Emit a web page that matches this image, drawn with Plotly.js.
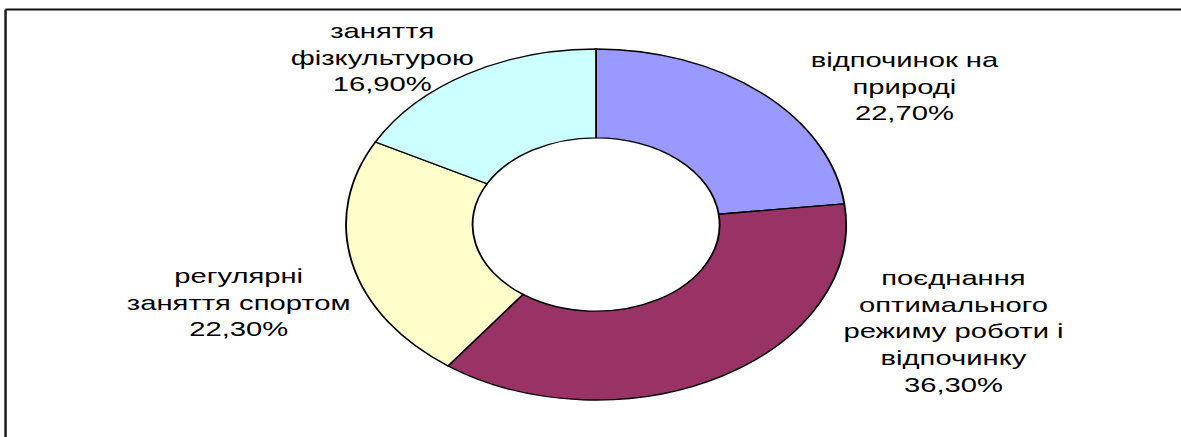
<!DOCTYPE html>
<html>
<head>
<meta charset="utf-8">
<script src="https://cdn.plot.ly/plotly-3.0.1.min.js"></script>
<style>
  html, body { margin: 0; padding: 0; background: #fff; overflow: hidden; }
  #chart { width: 829px; height: 437px; transform: scaleX(1.42461); transform-origin: 0 0; }
</style>
</head>
<body>
<div id="chart"></div>
<script>
// Data
const categories = [
  'відпочинок на<br>природі',
  'поєднання<br>оптимального<br>режиму роботи і<br>відпочинку',
  'регулярні<br>заняття спортом',
  'заняття<br>фізкультурою'
];
const values = [22.7, 36.3, 22.3, 16.9];
const colors = ['#9999FF', '#993366', '#FFFFCC', '#CCFFFF'];

const W = 829, H = 437;
function px(x) { return x / W; }
function py(y) { return 1 - y / H; }

// label anchor centres (unstretched pixel space)
const labelPos = [[634.6, 86], [669.0, 331], [167.1, 301.5], [268.1, 57.5]];

function pct(v) { return v.toFixed(2).replace('.', ',') + '%'; }

const annotations = categories.map((c, i) => ({
  text: c + '<br>' + pct(values[i]),
  xref: 'paper', yref: 'paper',
  x: px(labelPos[i][0]), y: py(labelPos[i][1]),
  xanchor: 'center', yanchor: 'middle',
  showarrow: false, align: 'center',
  font: { family: 'Liberation Sans, Arial, sans-serif', size: 20.5, color: '#000' }
}));

const cx = 418.4, cy = 224.5, R = 175.5;

const trace = {
  type: 'pie',
  values: values,
  labels: categories,
  marker: { colors: colors, line: { color: '#000', width: 1.3 } },
  hole: 0.494,
  sort: false,
  direction: 'clockwise',
  rotation: 0,
  textinfo: 'none',
  hoverinfo: 'none',
  showlegend: false,
  domain: { x: [px(cx - R), px(cx + R)], y: [py(cy + R), py(cy - R)] }
};

const layout = {
  width: W, height: H,
  margin: { l: 0, r: 0, t: 0, b: 0 },
  paper_bgcolor: '#fff',
  showlegend: false,
  annotations: annotations,
  shapes: [
    { type: 'line', xref: 'paper', yref: 'paper', x0: px(3.9), x1: 1.01, y0: py(9.5), y1: py(9.5), line: { color: '#111', width: 1.8 } },
    { type: 'line', xref: 'paper', yref: 'paper', x0: px(3.9), x1: px(3.9), y0: py(9.5), y1: -0.01, line: { color: '#222', width: 1.8 } }
  ]
};

Plotly.newPlot('chart', [trace], layout, { staticPlot: true, displayModeBar: false });
</script>
</body>
</html>
